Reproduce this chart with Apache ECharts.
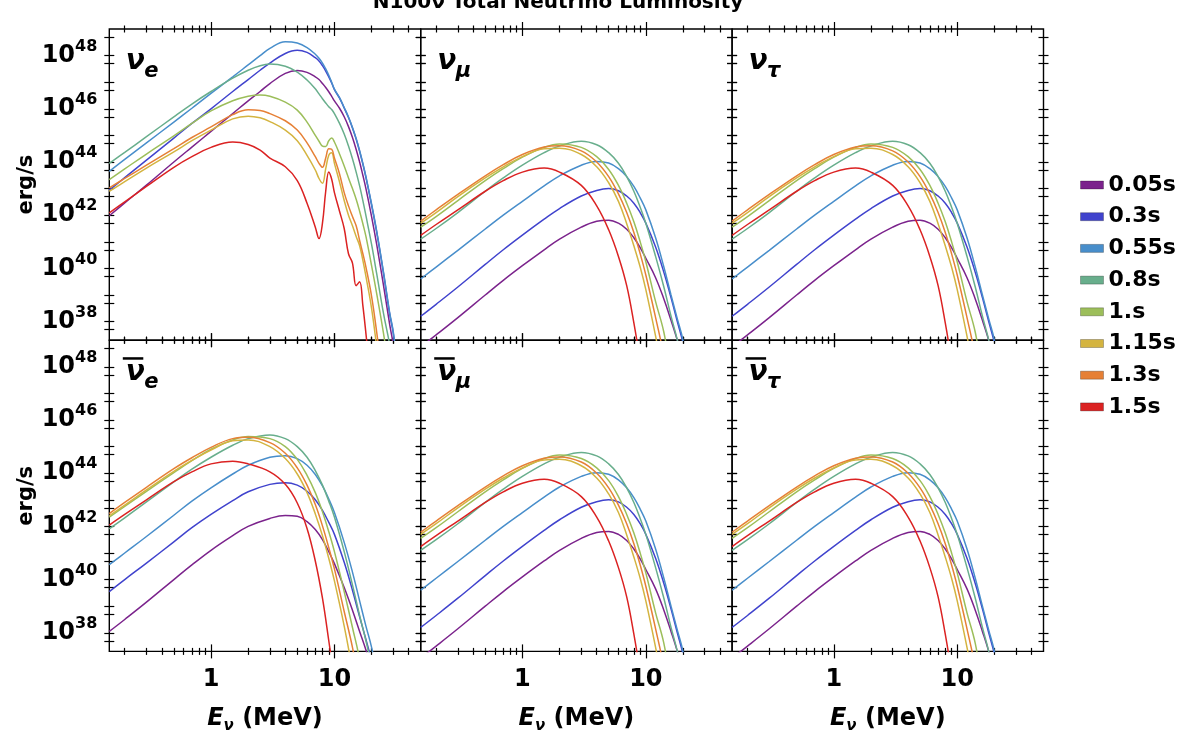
<!DOCTYPE html>
<html>
<head>
<meta charset="utf-8">
<title>N100ν Total Neutrino Luminosity</title>
<script src="https://cdn.jsdelivr.net/npm/echarts@6.0.0/dist/echarts.min.js"></script>
<style>
html,body{margin:0;padding:0;background:#ffffff;}
#chart{width:1196px;height:746px;}
</style>
</head>
<body>
<div id="chart"></div>
<script>
// ---------------- data ----------------
const timeLabels = ['0.05s','0.3s','0.55s','0.8s','1.s','1.15s','1.3s','1.5s'];
const timeColors = ['#7b238c','#4043cd','#488ecb','#68ae8c','#9cbe5a','#d4b440','#e68036','#db2222'];

// axis ticks
const xTickMajor = [1, 10];
const xTickLabels = ['1', '10'];
const xTickMinor = [0.2,0.3,0.4,0.5,0.6,0.7,0.8,0.9,2,3,4,5,6,7,8,9,20,30,40];
const yTickValues = [5e37,1e38,5e38,1e39,5e39,1e40,5e40,1e41,5e41,1e42,5e42,1e43,5e43,1e44,5e44,1e45,5e45,1e46,5e46,1e47,5e47,1e48,5e48];
const yLabelExponents = [38,40,42,44,46,48];

// neutrino energy samples (MeV)
const energyNuE = [0.15,0.2,0.3,0.5,0.7,1,1.5,2,2.5,3,4,5,6,7,7.5,8,8.5,9,9.5,10,11,12,13,14,15,16,17,18,20,22,25,28,30,35];
const energyOther = [0.15,0.2,0.3,0.5,0.7,1,1.5,2,3,4,5,6,7,8,9,10,12,14,16,18,20,25];

// luminosity, log10(erg/s)
// nu_e
const nuE_005 = [41.98,42.46,43.13,44.0,44.56,45.15,45.82,46.3,46.65,46.95,47.33,47.44,47.37,47.2,47.1,46.95,46.8,46.64,46.47,46.3,46.02,45.7,45.33,44.92,44.47,44.0,43.5,43.0,41.95,40.9,39.35,37.9,37.1,34.5];
const nuE_030 = [42.94,43.41,44.07,44.9,45.45,46.0,46.65,47.1,47.45,47.72,48.08,48.2,48.12,47.92,47.8,47.62,47.42,47.2,46.97,46.72,46.4,46.03,45.67,45.28,44.86,44.4,43.92,43.42,42.38,41.36,39.8,38.3,37.55,34.95];
const nuE_055 = [43.65,44.1,44.72,45.5,46.02,46.58,47.2,47.65,48.0,48.27,48.52,48.47,48.3,48.05,47.9,47.72,47.5,47.26,47.0,46.74,46.42,46.05,45.69,45.3,44.88,44.42,43.95,43.45,42.42,41.4,39.85,38.35,37.6,35.0];
const nuE_080 = [43.95,44.36,44.95,45.7,46.18,46.65,47.15,47.45,47.62,47.68,47.6,47.38,47.08,46.75,46.56,46.38,46.22,46.08,45.97,45.82,45.45,45.05,44.6,44.12,43.62,43.1,42.55,41.98,40.9,39.8,38.3,37.15,36.3,33.5];
const nuE_100 = [43.34,43.74,44.3,44.98,45.45,45.92,46.3,46.47,46.52,46.47,46.25,45.95,45.5,45.0,44.78,44.6,44.58,44.8,44.9,44.75,44.3,43.85,43.4,43.0,42.6,42.15,41.68,41.2,40.1,39.05,37.55,36.0,35.0,32.0];
const nuE_115 = [42.9,43.26,43.77,44.38,44.8,45.2,45.62,45.72,45.66,45.52,45.2,44.8,44.25,43.7,43.38,43.2,43.75,44.25,44.35,43.95,43.25,42.55,42.0,41.6,41.2,40.85,40.3,39.7,38.5,37.05,35.0,33.0,32.0,30.0];
const nuE_130 = [43.03,43.38,43.88,44.5,44.92,45.32,45.78,45.96,45.94,45.82,45.55,45.2,44.72,44.2,43.95,43.8,44.15,44.5,44.48,44.15,43.55,42.85,42.35,41.95,41.6,41.05,40.55,40.05,38.95,37.6,35.5,33.0,32.0,30.0];
const nuE_150 = [42.09,42.5,43.08,43.8,44.2,44.55,44.75,44.66,44.45,44.15,43.82,43.3,42.45,41.55,41.12,41.7,42.9,43.62,43.35,42.85,42.15,41.5,40.55,40.2,39.35,39.5,38.6,37.55,35.5,34.0,33.0,32.0,31.0,30.0];

// nu_mu and nu_tau (identical curves), also used for their antineutrinos
const nuX_005 = [37.05,37.5,38.15,39.0,39.55,40.1,40.7,41.1,41.55,41.77,41.81,41.7,41.47,41.15,40.78,40.38,39.65,38.85,38.05,37.3,36.5,34.0];
const nuX_030 = [38.2,38.65,39.3,40.15,40.7,41.25,41.85,42.25,42.72,42.93,43.0,42.92,42.72,42.45,42.1,41.7,40.8,39.85,38.9,38.0,37.2,35.0];
const nuX_055 = [39.6,40.05,40.68,41.48,42.0,42.52,43.1,43.48,43.88,44.02,43.96,43.75,43.45,43.08,42.65,42.2,41.15,40.05,39.0,38.1,37.3,34.8];
const nuX_080 = [41.1,41.5,42.1,42.9,43.4,43.88,44.35,44.6,44.78,44.65,44.35,43.95,43.45,42.9,42.3,41.7,40.45,39.3,38.2,37.3,36.3,34.0];
const nuX_100 = [41.55,41.95,42.55,43.3,43.75,44.18,44.55,44.68,44.55,44.2,43.72,43.12,42.45,41.75,41.0,40.25,38.75,37.6,36.0,34.5,33.0,30.0];
const nuX_115 = [41.7,42.1,42.7,43.4,43.82,44.2,44.5,44.52,44.28,43.82,43.22,42.52,41.68,40.85,40.05,39.2,37.45,35.8,34.0,33.0,32.0,30.0];
const nuX_130 = [41.78,42.2,42.78,43.48,43.9,44.28,44.56,44.61,44.42,44.0,43.45,42.8,42.1,41.35,40.55,39.75,38.15,36.7,35.0,33.5,32.0,30.0];
const nuX_150 = [41.24,41.65,42.2,42.9,43.3,43.62,43.77,43.62,43.12,42.35,41.45,40.45,39.35,37.95,36.5,35.0,32.0,30.0,29.0,28.0,27.0,25.0];

// anti nu_e
const anuE_005 = [38.05,38.5,39.15,40.0,40.55,41.1,41.65,42.0,42.3,42.41,42.38,42.18,41.88,41.5,41.05,40.6,39.7,38.85,38.05,37.35,36.6,34.5];
const anuE_030 = [39.55,40.0,40.62,41.42,41.95,42.45,42.97,43.3,43.58,43.64,43.55,43.32,43.0,42.6,42.15,41.7,40.65,39.6,38.6,37.75,36.95,35.0];
const anuE_055 = [40.56,41.0,41.62,42.42,42.95,43.45,43.97,44.3,44.6,44.66,44.55,44.3,43.95,43.52,43.03,42.52,41.4,40.28,39.2,38.25,37.45,35.2];
const anuE_080 = [41.91,42.32,42.92,43.67,44.15,44.6,45.05,45.3,45.44,45.3,45.0,44.6,44.1,43.55,42.95,42.35,41.05,39.8,38.65,37.7,36.75,34.5];
const anuE_100 = [42.35,42.75,43.32,44.02,44.47,44.9,45.25,45.38,45.3,45.0,44.52,43.92,43.27,42.55,41.8,41.05,39.55,38.2,37.0,35.5,34.0,31.0];
const anuE_115 = [42.4,42.8,43.37,44.07,44.48,44.87,45.22,45.25,45.0,44.55,43.97,43.27,42.47,41.65,40.8,39.95,38.25,36.6,35.0,33.5,32.0,30.0];
const anuE_130 = [42.48,42.9,43.47,44.17,44.58,44.97,45.3,45.35,45.15,44.75,44.2,43.55,42.82,42.02,41.2,40.4,38.8,37.45,36.0,34.5,33.0,30.0];
const anuE_150 = [42.05,42.45,43.0,43.68,44.05,44.35,44.45,44.35,44.05,43.58,42.88,41.92,40.7,39.3,37.7,36.2,33.0,31.0,30.0,29.0,28.0,27.0];

const panels = [
  {main:'ν', sub:'e', bar:false, energy:energyNuE, curves:[nuE_005,nuE_030,nuE_055,nuE_080,nuE_100,nuE_115,nuE_130,nuE_150]},
  {main:'ν', sub:'μ', bar:false, energy:energyOther, curves:[nuX_005,nuX_030,nuX_055,nuX_080,nuX_100,nuX_115,nuX_130,nuX_150]},
  {main:'ν', sub:'τ', bar:false, energy:energyOther, curves:[nuX_005,nuX_030,nuX_055,nuX_080,nuX_100,nuX_115,nuX_130,nuX_150]},
  {main:'ν', sub:'e', bar:true, energy:energyOther, curves:[anuE_005,anuE_030,anuE_055,anuE_080,anuE_100,anuE_115,anuE_130,anuE_150]},
  {main:'ν', sub:'μ', bar:true, energy:energyOther, curves:[nuX_005,nuX_030,nuX_055,nuX_080,nuX_100,nuX_115,nuX_130,nuX_150]},
  {main:'ν', sub:'τ', bar:true, energy:energyOther, curves:[nuX_005,nuX_030,nuX_055,nuX_080,nuX_100,nuX_115,nuX_130,nuX_150]}
];

// ---------------- layout ----------------
const X_MIN = 0.15, X_MAX = 50;     // MeV
const Y_MIN = 37.3, Y_MAX = 49;     // log10(erg/s)
const GRID_LEFTS = [109.3, 420.7, 732.1];
const GRID_TOPS = [29.0, 340.2];
const GRID_W = 311.4, GRID_H = 311.2;
const FONT = '"DejaVu Sans"';
const lg = Math.log10;

const option = {
  animation: false,
  backgroundColor: '#ffffff',
  grid: [], xAxis: [], yAxis: [], series: [],
  legend: {
    orient: 'vertical', left: 1075, top: 169,
    itemWidth: 23, itemHeight: 8, itemGap: 9.7, icon: 'rect',
    selectedMode: false,
    data: timeLabels,
    itemStyle: {borderColor: 'rgba(0,0,0,0.25)', borderWidth: 1},
    textStyle: {fontFamily: FONT, fontWeight: 'bold', fontSize: 22, lineHeight: 22, color: '#000'}
  },
  graphic: {elements: []}
};

function baseValueAxis(gi, isX) {
  return {
    type: 'value', gridIndex: gi,
    min: isX ? lg(X_MIN) : Y_MIN, max: isX ? lg(X_MAX) : Y_MAX,
    axisLine: {show: false, onZero: false}, splitLine: {show: false},
    axisLabel: {show: false}, axisTick: {show: false}, silent: true
  };
}
function tickAxis(gi, isX, pos, ticks, len) {
  const a = baseValueAxis(gi, isX);
  a.position = pos;
  a.offset = -len / 2;
  a.axisTick = {show: true, length: len, customValues: ticks.map(lg), lineStyle: {color: '#000', width: 1.2}};
  return a;
}

panels.forEach((p, gi) => {
  const row = Math.floor(gi / 3), col = gi % 3;
  const left = GRID_LEFTS[col], top = GRID_TOPS[row];
  option.grid.push({left: left, top: top, width: GRID_W, height: GRID_H, show: true,
    borderColor: '#000', borderWidth: 1.4, backgroundColor: 'transparent'});

  // data axes
  const xi = option.xAxis.length;
  option.xAxis.push({type: 'log', logBase: 10, gridIndex: gi, min: X_MIN, max: X_MAX, show: false,
    axisLine: {onZero: false}});
  const yi = option.yAxis.length;
  option.yAxis.push(Object.assign(baseValueAxis(gi, false), {position: 'left', show: false}));

  // tick decoration (ticks cross the frame)
  option.xAxis.push(tickAxis(gi, true, 'bottom', xTickMajor, 14));
  option.xAxis.push(tickAxis(gi, true, 'bottom', xTickMinor, 7));
  option.xAxis.push(tickAxis(gi, true, 'top', xTickMajor, 14));
  option.xAxis.push(tickAxis(gi, true, 'top', xTickMinor, 7));
  option.yAxis.push(tickAxis(gi, false, 'left', yTickValues, 10));
  option.yAxis.push(tickAxis(gi, false, 'right', yTickValues, 10));

  // tick labels and axis names
  if (row === 1) {
    const a = baseValueAxis(gi, true);
    a.position = 'bottom';
    a.offset = 0;
    a.axisLabel = {
      show: true, customValues: xTickMajor.map(lg), margin: 16,
      fontFamily: FONT, fontWeight: 'bold', fontSize: 24, lineHeight: 24, color: '#000',
      formatter: function (v) {
        const i = xTickMajor.findIndex(t => Math.abs(lg(t) - v) < 1e-6);
        return i >= 0 ? xTickLabels[i] : '';
      }
    };
    a.name = '{e|E}{n|ν} {m|(MeV)}';
    a.nameLocation = 'middle';
    a.nameGap = 52;
    a.nameTextStyle = {
      fontFamily: FONT, fontWeight: 'bold', fontSize: 24, color: '#000', lineHeight: 30,
      rich: {
        e: {fontFamily: FONT, fontWeight: 'bold', fontStyle: 'italic', fontSize: 24, lineHeight: 30, verticalAlign: 'middle', color: '#000'},
        n: {fontFamily: FONT, fontWeight: 'bold', fontStyle: 'italic', fontSize: 15, lineHeight: 15, verticalAlign: 'bottom', color: '#000'},
        m: {fontFamily: FONT, fontWeight: 'bold', fontSize: 24, lineHeight: 30, verticalAlign: 'middle', color: '#000'}
      }
    };
    option.xAxis.push(a);
  }
  if (col === 0) {
    const a = baseValueAxis(gi, false);
    a.position = 'left';
    a.offset = 0;
    a.axisLabel = {
      show: true, customValues: yLabelExponents, margin: 12, color: '#000',
      fontFamily: FONT, fontWeight: 'bold', fontSize: 24,
      formatter: function (v) { return '{b|10}{s|' + Math.round(v) + '}'; },
      rich: {
        b: {fontFamily: FONT, fontWeight: 'bold', fontSize: 24, lineHeight: 34, verticalAlign: 'middle', color: '#000'},
        s: {fontFamily: FONT, fontWeight: 'bold', fontSize: 16, lineHeight: 16, verticalAlign: 'top', color: '#000'}
      }
    };
    a.name = 'erg/s';
    a.nameLocation = 'middle';
    a.nameRotate = 90;
    a.nameGap = 72;
    a.nameTextStyle = {fontFamily: FONT, fontWeight: 'bold', fontSize: 21, lineHeight: 21, color: '#000'};
    option.yAxis.push(a);
  }

  // curves
  p.curves.forEach((c, s) => {
    option.series.push({
      type: 'line', name: timeLabels[s], xAxisIndex: xi, yAxisIndex: yi,
      data: p.energy.map((e, k) => [e, c[k]]),
      showSymbol: false, symbol: 'none', smooth: 0.4, clip: true,
      lineStyle: {color: timeColors[s], width: 1.5},
      itemStyle: {color: timeColors[s]},
      emphasis: {disabled: true}, z: 2 + s
    });
  });

  // panel label
  const els = option.graphic.elements;
  els.push({type: 'text', x: left + 16.5, y: top + 33, silent: true, z: 100,
    style: {text: p.main, fill: '#000', font: 'italic bold 28px ' + FONT,
      align: 'left', textAlign: 'left', verticalAlign: 'middle', textVerticalAlign: 'middle'}});
  els.push({type: 'text', x: left + 35, y: top + 42.5, silent: true, z: 100,
    style: {text: p.sub, fill: '#000', font: 'italic bold 21px ' + FONT,
      align: 'left', textAlign: 'left', verticalAlign: 'middle', textVerticalAlign: 'middle'}});
  if (p.bar) {
    els.push({type: 'rect', silent: true, z: 100,
      shape: {x: left + 13.5, y: top + 17, width: 20.5, height: 2.5},
      style: {fill: '#000'}});
  }
});

// title (partly cut off at the top edge, as in the original)
option.graphic.elements.push({type: 'text', x: 558, y: 3, silent: true, z: 100,
  style: {text: 'N100ν Total Neutrino Luminosity', fill: '#000', font: 'bold 20px ' + FONT,
    align: 'center', textAlign: 'center', verticalAlign: 'middle', textVerticalAlign: 'middle'}});

const chart = echarts.init(document.getElementById('chart'), null, {renderer: 'canvas'});
chart.setOption(option);
</script>
</body>
</html>
